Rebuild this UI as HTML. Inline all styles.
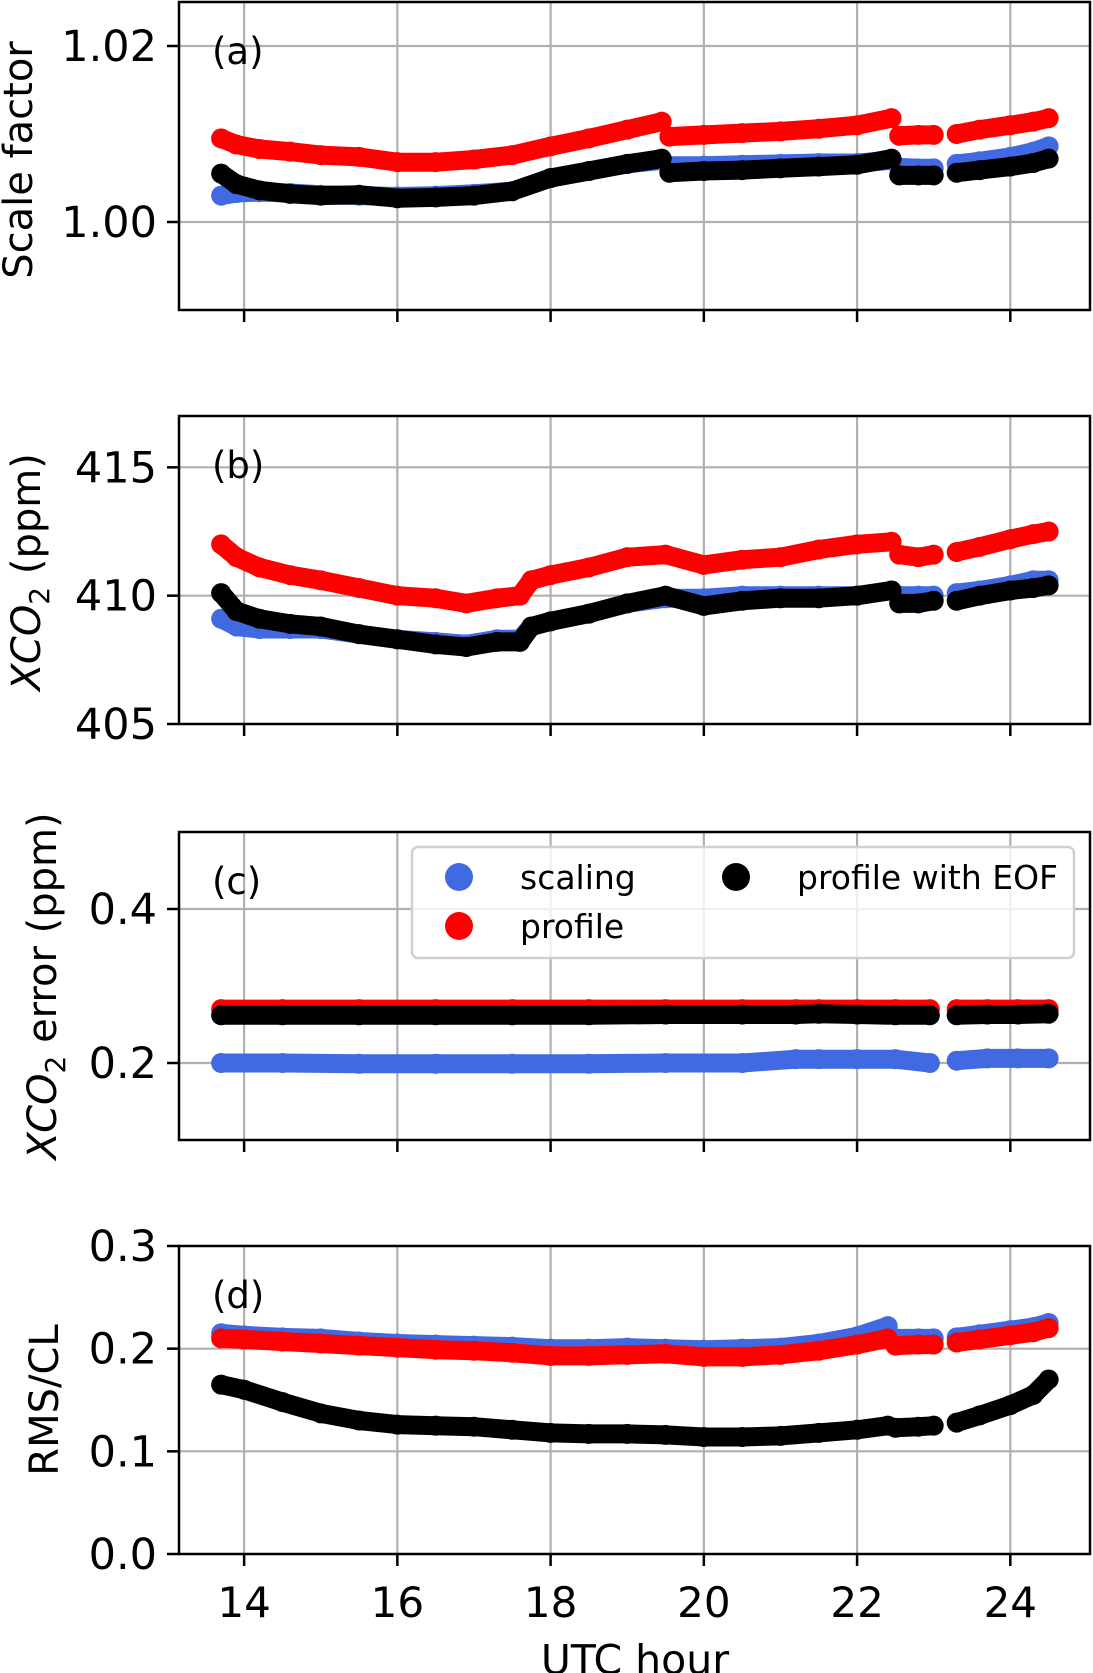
<!DOCTYPE html>
<html><head><meta charset="utf-8"><style>
body{margin:0;background:#fff}
svg{display:block;font-family:"DejaVu Sans","Liberation Sans",sans-serif}
</style></head><body>
<svg id="fig" width="1093" height="1673" viewBox="0 0 1093 1673" xmlns="http://www.w3.org/2000/svg"></svg>
<script>
// ---- data (hours) ----
const xTicks = [14,16,18,20,22,24];
// panel a: scale factor
const aTime  = [13.7,13.9,14.2,14.6,15,15.5,16,16.5,17,17.5,18,18.5,19,19.45,null,19.55,20,20.5,21,21.5,22,22.45,null,22.55,22.8,23.0,null,23.3,23.6,24,24.3,24.5];
const aRed   = [1.0095,1.0088,1.0083,1.0080,1.0076,1.0074,1.0068,1.0068,1.0071,1.0076,1.0086,1.0095,1.0105,1.0114,null,1.0097,1.0099,1.0101,1.0103,1.0106,1.0110,1.0118,null,1.0098,1.0099,1.0099,null,1.0100,1.0105,1.0110,1.0114,1.0118];
const aBlack = [1.0055,1.0043,1.0036,1.0032,1.0030,1.0031,1.0027,1.0028,1.0030,1.0035,1.0050,1.0058,1.0066,1.0072,null,1.0056,1.0058,1.0059,1.0061,1.0063,1.0065,1.0072,null,1.0053,1.0053,1.0053,null,1.0056,1.0059,1.0063,1.0067,1.0072];
const aBlue  = [1.0030,1.0033,1.0034,1.0033,1.0031,1.0030,1.0029,1.0030,1.0032,1.0035,1.0050,1.0058,1.0066,1.0070,null,1.0064,1.0064,1.0065,1.0066,1.0067,1.0067,1.0070,null,1.0062,1.0061,1.0061,null,1.0066,1.0069,1.0074,1.0080,1.0086];
// panel b: XCO2
const bTime  = [13.7,13.9,14.2,14.6,15,15.5,16,16.5,16.9,17.3,17.6,17.75,18,18.5,19,19.5,20,20.5,21,21.5,22,22.45,null,22.55,22.8,23.0,null,23.3,23.6,24,24.3,24.5];
const bRed   = [412.0,411.5,411.1,410.8,410.6,410.3,410.0,409.9,409.7,409.9,410.0,410.6,410.8,411.1,411.5,411.6,411.2,411.4,411.5,411.8,412.0,412.1,null,411.6,411.5,411.6,null,411.7,411.9,412.2,412.4,412.5];
const bBlack = [410.1,409.4,409.1,408.9,408.8,408.5,408.3,408.1,408.0,408.2,408.2,408.8,409.0,409.3,409.7,410.0,409.6,409.8,409.9,409.9,410.0,410.2,null,409.7,409.7,409.8,null,409.8,410.0,410.2,410.3,410.4];
const bBlue  = [409.1,408.8,408.7,408.7,408.7,408.5,408.3,408.2,408.1,408.3,408.3,408.8,409.0,409.3,409.7,409.9,409.9,410.0,410.0,410.0,410.0,410.2,null,410.0,410.0,410.0,null,410.1,410.2,410.4,410.6,410.6];
// panel c: XCO2 error
const cTime  = [13.7,14.5,15.5,16.5,17.5,18.5,19.5,20.5,21.2,21.5,22,22.5,22.95,null,23.3,23.7,24.1,24.5];
const cRed   = [0.270,0.270,0.270,0.270,0.270,0.270,0.270,0.270,0.270,0.270,0.270,0.270,0.270,null,0.270,0.270,0.270,0.270];
const cBlack = [0.262,0.262,0.262,0.262,0.262,0.262,0.263,0.263,0.263,0.264,0.263,0.262,0.262,null,0.262,0.263,0.263,0.264];
const cBlue  = [0.200,0.200,0.199,0.199,0.199,0.199,0.200,0.200,0.205,0.205,0.205,0.205,0.200,null,0.203,0.206,0.206,0.206];
// panel d: RMS/CL
const dTime  = [13.7,14,14.5,15,15.5,16,16.5,17,17.5,18,18.5,19,19.5,20,20.5,21,21.5,22,22.4,null,22.5,22.8,23.0,null,23.3,23.6,24,24.3,24.5];
const dBlue  = [0.215,0.213,0.211,0.210,0.207,0.205,0.204,0.203,0.202,0.200,0.200,0.201,0.200,0.199,0.200,0.201,0.205,0.212,0.222,null,0.210,0.210,0.210,null,0.211,0.214,0.218,0.221,0.225];
const dRed   = [0.210,0.209,0.207,0.205,0.203,0.201,0.199,0.198,0.196,0.193,0.193,0.194,0.195,0.192,0.192,0.194,0.198,0.204,0.210,null,0.203,0.204,0.204,null,0.206,0.209,0.213,0.216,0.220];
const dBlack = [0.165,0.160,0.148,0.137,0.130,0.126,0.125,0.124,0.121,0.118,0.117,0.117,0.116,0.114,0.114,0.115,0.118,0.121,0.125,null,0.123,0.124,0.125,null,0.128,0.135,0.145,0.155,0.170];

const NS="http://www.w3.org/2000/svg";
const svg=document.getElementById('fig');
const L=179,R=1090,X0=13.15,X1=25.04;
const xs=v=>L+(v-X0)/(X1-X0)*(R-L);
function mk(tag,attrs,parent){const e=document.createElementNS(NS,tag);for(const k in attrs)e.setAttribute(k,attrs[k]);(parent||svg).appendChild(e);return e;}

const panels=[
 {key:'a',top:2,y0:0.99,y1:1.025,ticks:[1.00,1.02],fmt:v=>v.toFixed(2),t:aTime,series:[aBlue,aRed,aBlack],label:'(a)'},
 {key:'b',top:416,y0:405,y1:417.0,ticks:[405,410,415],fmt:v=>String(v),t:bTime,series:[bBlue,bRed,bBlack],label:'(b)'},
 {key:'c',top:832,y0:0.1,y1:0.5,ticks:[0.2,0.4],fmt:v=>v.toFixed(1),t:cTime,series:[cBlue,cRed,cBlack],label:'(c)'},
 {key:'d',top:1246,y0:0,y1:0.3,ticks:[0.0,0.1,0.2,0.3],fmt:v=>v.toFixed(1),t:dTime,series:[dBlue,dRed,dBlack],label:'(d)'}
];
const H=308, colors=['#4169e1','#ff0000','#000000'], names=['scaling','profile','profile-with-eof'];

panels.forEach(p=>{
  const g=mk('g',{});
  
  
  const ys=v=>p.top+H-(v-p.y0)/(p.y1-p.y0)*H;
  xTicks.forEach(t=>{const l=mk('line',{x1:xs(t),x2:xs(t),y1:p.top,y2:p.top+H,stroke:'#b0b0b0','stroke-width':2.2},g);
    });
  p.ticks.forEach(t=>{const y=ys(t);
    if(y>p.top+1&&y<p.top+H-1){const l=mk('line',{x1:L,x2:R,y1:y,y2:y,stroke:'#b0b0b0','stroke-width':2.2},g);
      }
    const tk=mk('line',{x1:L-12,x2:L,y1:y,y2:y,stroke:'#000','stroke-width':2.5},g);
    
    const tx=mk('text',{x:L-22,y:y+15,'text-anchor':'end','font-size':43},g);tx.textContent=p.fmt(t);
    
  });
  p.series.forEach((vals,si)=>{
    const sg=mk('g',{fill:colors[si],stroke:colors[si]},g);
    
    
    let d='',pen=false;
    p.t.forEach((t,i)=>{const v=vals[i];if(t===null||v===null){pen=false;return;}
      d+=(pen?'L':'M')+xs(t).toFixed(1)+' '+ys(v).toFixed(1);pen=true;});
    const pa=mk('path',{d:d,fill:'none','stroke-width':19,'stroke-linecap':'round','stroke-linejoin':'round'},sg);
    
    p.t.forEach((t,i)=>{const v=vals[i];if(t===null||v===null)return;
      const c=mk('circle',{cx:xs(t),cy:ys(v),r:10,stroke:'none'},sg);
      });
  });
  const fr=mk('rect',{x:L,y:p.top,width:R-L,height:H,fill:'none',stroke:'#000','stroke-width':2.5},g);
  
  xTicks.forEach(t=>{const tk=mk('line',{x1:xs(t),x2:xs(t),y1:p.top+H,y2:p.top+H+12,stroke:'#000','stroke-width':2.5},g);
    });
  const pl=mk('text',{x:212,y:p.top+62,'font-size':37},g);pl.textContent=p.label;
  
});
xTicks.forEach(t=>{const tx=mk('text',{x:xs(t),y:1617,'text-anchor':'middle','font-size':42});tx.textContent=t;
  });
const xl=mk('text',{x:635,y:1674,'text-anchor':'middle','font-size':41});xl.textContent='UTC hour';

function ytitle(cx,cy,html,name){const t=mk('text',{transform:`translate(${cx},${cy}) rotate(-90)`,'text-anchor':'middle','font-size':40});
  t.innerHTML=html;}
ytitle(32,160,'Scale factor','y-axis-title-a');
ytitle(40,572,'<tspan font-style="italic">XCO</tspan><tspan font-size="28" dy="9">2</tspan><tspan dy="-9"> (ppm)</tspan>','y-axis-title-b');
ytitle(56,986,'<tspan font-style="italic">XCO</tspan><tspan font-size="28" dy="9">2</tspan><tspan dy="-9"> error (ppm)</tspan>','y-axis-title-c');
ytitle(58,1400,'RMS/CL','y-axis-title-d');
const lg=mk('g',{});

mk('rect',{x:412,y:847,width:662,height:111,rx:6,fill:'rgba(255,255,255,0.8)',stroke:'#d0d0d0','stroke-width':2.5},lg);
[[459,877,0,'scaling'],[459,926,1,'profile'],[736,877,2,'profile with EOF']].forEach(([x,y,ci,txt])=>{
  const e=mk('g',{},lg);
  
  mk('circle',{cx:x,cy:y,r:14,fill:colors[ci]},e);
  const t=mk('text',{x:x+61,y:y+12,'font-size':33},e);t.textContent=txt;
});
</script>
</body></html>
